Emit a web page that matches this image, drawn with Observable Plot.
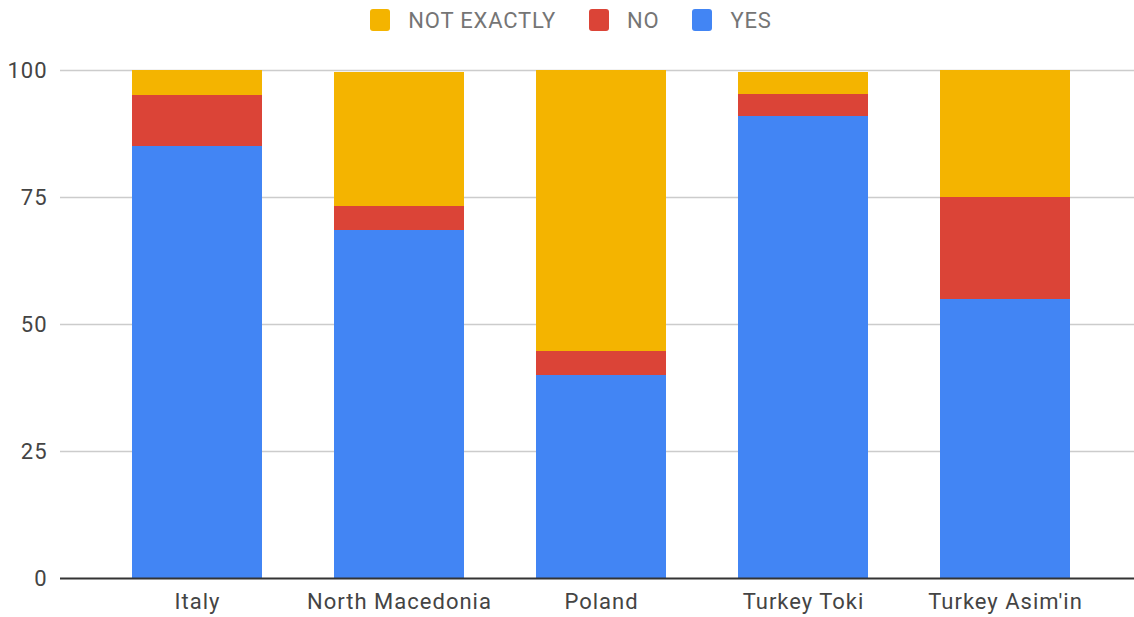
<!DOCTYPE html>
<html><head><meta charset="utf-8">
<script src="https://cdn.jsdelivr.net/npm/d3@7"></script>
<script src="https://cdn.jsdelivr.net/npm/@observablehq/plot@0.6"></script>
<style>
body{margin:0;background:#fff;font-family:Roboto,sans-serif;}
#legend{height:40px;display:flex;justify-content:center;align-items:center;font-size:22px;letter-spacing:0.8px;color:#757575;padding-left:8px;}
.item{display:flex;align-items:center;margin:0 16.5px;}
.sw{width:20px;height:22px;border-radius:3px;margin-right:18px;}
</style></head>
<body>
<div id="legend"></div>
<div id="chart"></div>
<script>
const categories = ["Italy","North Macedonia","Poland","Turkey Toki","Turkey Asim'in"];
const series = ["NOT EXACTLY","NO","YES"];
const colors = ["#F4B400","#DB4437","#4285F4"];
const yes = [85, 68.5, 40, 91, 55];
const no = [10, 4.7, 4.75, 4.3, 20];
const notExactly = [5, 26.4, 55.25, 4.3, 25];
const yTicks = [0,25,50,75,100];

const leg = document.getElementById("legend");
series.forEach((s,i)=>{
  const d=document.createElement("div");d.className="item";
  d.innerHTML=`<div class="sw" style="background:${colors[i]}"></div><span>${s}</span>`;
  leg.appendChild(d);
});

const data = [];
categories.forEach((c,i)=>{
  data.push({cat:c, s:"YES", v:yes[i]});
  data.push({cat:c, s:"NO", v:no[i]});
  data.push({cat:c, s:"NOT EXACTLY", v:notExactly[i]});
});

const chart = Plot.plot({
  width:1134, height:577,
  marginTop:30, marginBottom:39, marginLeft:60, marginRight:0,
  style:{fontFamily:"Roboto, sans-serif", fontSize:"22px", color:"#444", letterSpacing:"1px"},
  x:{domain:categories, range:[96,1106], paddingInner:0.356, paddingOuter:0.178, label:null},
  y:{domain:[0,100], ticks:yTicks, label:null},
  color:{domain:series, range:colors},
  marks:[
    Plot.ruleY(yTicks.slice(1), {stroke:"#ccc", strokeWidth:1.5}),
    Plot.barY(data, Plot.stackY({x:"cat", y:"v", fill:"s", order:["YES","NO","NOT EXACTLY"], shapeRendering:"crispEdges"})),
    Plot.ruleY([0], {stroke:"#333", strokeWidth:2}),
    Plot.axisX({tickSize:0, tickPadding:15, fill:"#444"}),
    Plot.axisY({ticks:yTicks, tickSize:0, tickPadding:13, fill:"#444"})
  ]
});
document.getElementById("chart").appendChild(chart);
</script>
</body></html>
